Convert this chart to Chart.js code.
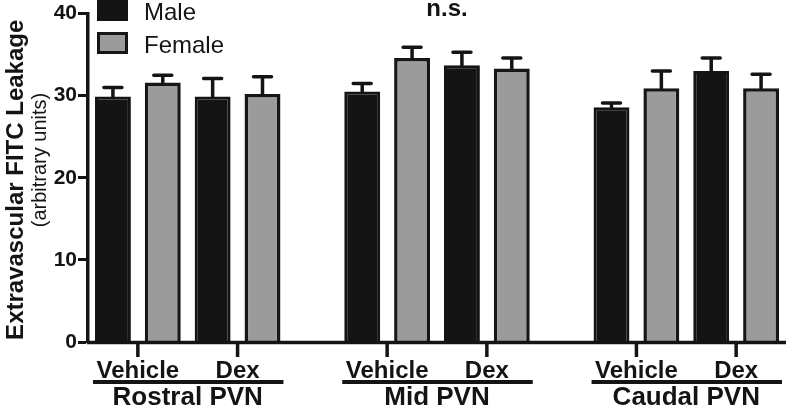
<!DOCTYPE html>
<html>
<head>
<meta charset="utf-8">
<script src="https://cdn.jsdelivr.net/npm/chart.js@4"></script>
<style>
  html, body { margin: 0; padding: 0; background: #fff; }
  #wrap { width: 786px; height: 407px; position: relative; }
</style>
</head>
<body>
<div id="wrap"><canvas id="myChart"></canvas></div>
<script>
const regions = ['Rostral PVN', 'Mid PVN', 'Caudal PVN']
const treatments = ['Vehicle', 'Dex']
// order: Rostral Veh, Rostral Dex, Mid Veh, Mid Dex, Caudal Veh, Caudal Dex
const maleMean = [29.9, 29.9, 30.5, 33.7, 28.6, 33.0]
const maleSem = [1.1, 2.2, 1.0, 1.6, 0.5, 1.6]
const femaleMean = [31.6, 30.2, 34.6, 33.3, 30.9, 30.9]
const femaleSem = [0.9, 2.1, 1.3, 1.3, 2.1, 1.7]
const yTicks = [0, 10, 20, 30, 40]

const FONT = '"Liberation Sans", Arial, Helvetica, sans-serif'
const INK = '#141414'

// one slot per bar, plus an empty slot between regions
let labels = [], maleData = [], femaleData = [], maleErr = [], femaleErr = []
regions.forEach((r, ri) => {
    treatments.forEach((t, ti) => {
        const k = ri * treatments.length + ti
        labels.push(r + ' ' + t + ' M')
        maleData.push(maleMean[k]); maleErr.push(maleSem[k])
        femaleData.push(null); femaleErr.push(null)
        labels.push(r + ' ' + t + ' F')
        maleData.push(null); maleErr.push(null)
        femaleData.push(femaleMean[k]); femaleErr.push(femaleSem[k])
    })
    if (ri < regions.length - 1) {
        labels.push('')
        maleData.push(null); maleErr.push(null)
        femaleData.push(null); femaleErr.push(null)
    }
})

const errorBars = {
    id: 'errorBars',
    afterDatasetsDraw(chart) {
        const ctx = chart.ctx
        const y = chart.scales.y
        chart.data.datasets.forEach((ds, di) => {
            const meta = chart.getDatasetMeta(di)
            ds.data.forEach((v, i) => {
                if (v == null) return
                const bar = meta.data[i]
                const top = y.getPixelForValue(v + ds.errors[i])
                ctx.save()
                ctx.strokeStyle = INK
                ctx.lineWidth = 3.5
                ctx.lineCap = 'round'
                ctx.beginPath()
                ctx.moveTo(bar.x, bar.y)
                ctx.lineTo(bar.x, top)
                ctx.moveTo(bar.x - 9, top)
                ctx.lineTo(bar.x + 9, top)
                ctx.stroke()
                ctx.restore()
            })
        })
    }
}

const decorations = {
    id: 'decorations',
    afterDraw(chart) {
        const ctx = chart.ctx
        const area = chart.chartArea
        const mMeta = chart.getDatasetMeta(0)
        const fMeta = chart.getDatasetMeta(1)
        ctx.save()
        ctx.fillStyle = INK
        ctx.strokeStyle = INK

        // x axis line
        ctx.lineWidth = 3.5
        ctx.beginPath()
        ctx.moveTo(area.left - 1, area.bottom + 0.5)
        ctx.lineTo(area.right, area.bottom + 0.5)
        ctx.stroke()

        let slot = 0
        regions.forEach((r, ri) => {
            let first = null, last = null
            treatments.forEach((t, ti) => {
                const mb = mMeta.data[slot], fb = fMeta.data[slot + 1]
                const cx = (mb.x + fb.x) / 2
                if (first == null) first = mb.x - mb.width / 2
                last = fb.x + fb.width / 2
                ctx.lineWidth = 3.5
                ctx.beginPath()
                ctx.moveTo(cx, area.bottom)
                ctx.lineTo(cx, area.bottom + 15)
                ctx.stroke()
                ctx.font = 'bold 24px ' + FONT
                ctx.textAlign = 'center'
                ctx.textBaseline = 'alphabetic'
                ctx.fillText(t, cx, 378)
                slot += 2
            })
            slot += 1
            ctx.lineWidth = 4
            ctx.beginPath()
            ctx.moveTo(first - 2, 382)
            ctx.lineTo(last + 3, 382)
            ctx.stroke()
            ctx.font = 'bold 26px ' + FONT
            ctx.textAlign = 'center'
            ctx.fillText(r, (first + last) / 2, 405)
        })

        // legend
        const dsets = chart.data.datasets
        const boxes = [[97, -1], [97, 32]]
        dsets.forEach((ds, i) => {
            const [bx, by] = boxes[i]
            ctx.fillStyle = ds.borderColor
            ctx.fillRect(bx, by, 31, 22)
            ctx.fillStyle = ds.backgroundColor
            ctx.fillRect(bx + 3, by + 3, 25, 16)
            ctx.fillStyle = INK
            ctx.font = '24px ' + FONT
            ctx.textAlign = 'left'
            ctx.fillText(ds.label, 144, by + 21)
        })

        // n.s.
        ctx.font = 'bold 24px ' + FONT
        ctx.textAlign = 'center'
        ctx.fillText('n.s.', 447, 16)

        // y title
        const cy = (area.top + area.bottom) / 2
        ctx.save()
        ctx.translate(23, cy + 2)
        ctx.rotate(-Math.PI / 2)
        ctx.font = 'bold 24px ' + FONT
        ctx.fillText('Extravascular FITC Leakage', 0, 0)
        ctx.restore()
        ctx.save()
        ctx.translate(46, 160)
        ctx.rotate(-Math.PI / 2)
        ctx.font = '20px ' + FONT
        ctx.fillText('(arbitrary units)', 0, 0)
        ctx.restore()

        ctx.restore()
    }
}

function BuildBars() {
    var data = {
        labels: labels,
        datasets: [{
            label: 'Male',
            data: maleData,
            errors: maleErr,
            backgroundColor: INK,
            borderColor: INK,
            borderWidth: 3
        }, {
            label: 'Female',
            data: femaleData,
            errors: femaleErr,
            backgroundColor: '#9b9b9b',
            borderColor: '#161616',
            borderWidth: 3.5
        }]
    }
    var ctx = document.getElementById('myChart')
    var myChart = new Chart(ctx, {
        type: 'bar',
        data: data,
        options: {
            responsive: true,
            maintainAspectRatio: false,
            animation: false,
            layout: { padding: { top: 8, bottom: 65, left: 0, right: 0 } },
            grouped: false,
            categoryPercentage: 1,
            barPercentage: 0.72,
            plugins: {
                legend: { display: false },
                tooltip: { enabled: false }
            },
            scales: {
                x: { display: false },
                y: {
                    min: 0,
                    max: 40,
                    afterBuildTicks: s => { s.ticks = yTicks.map(v => ({ value: v })) },
                    afterFit: s => { s.width = 88 },
                    ticks: {
                        color: INK,
                        padding: 1,
                        font: { family: FONT, size: 21, weight: 'bold' }
                    },
                    grid: {
                        display: true,
                        drawOnChartArea: false,
                        drawTicks: true,
                        tickLength: 10,
                        tickWidth: 3,
                        tickColor: INK
                    },
                    border: { display: true, width: 3.5, color: INK }
                }
            }
        },
        plugins: [errorBars, decorations]
    })
    return myChart
}

BuildBars()
</script>
</body>
</html>
